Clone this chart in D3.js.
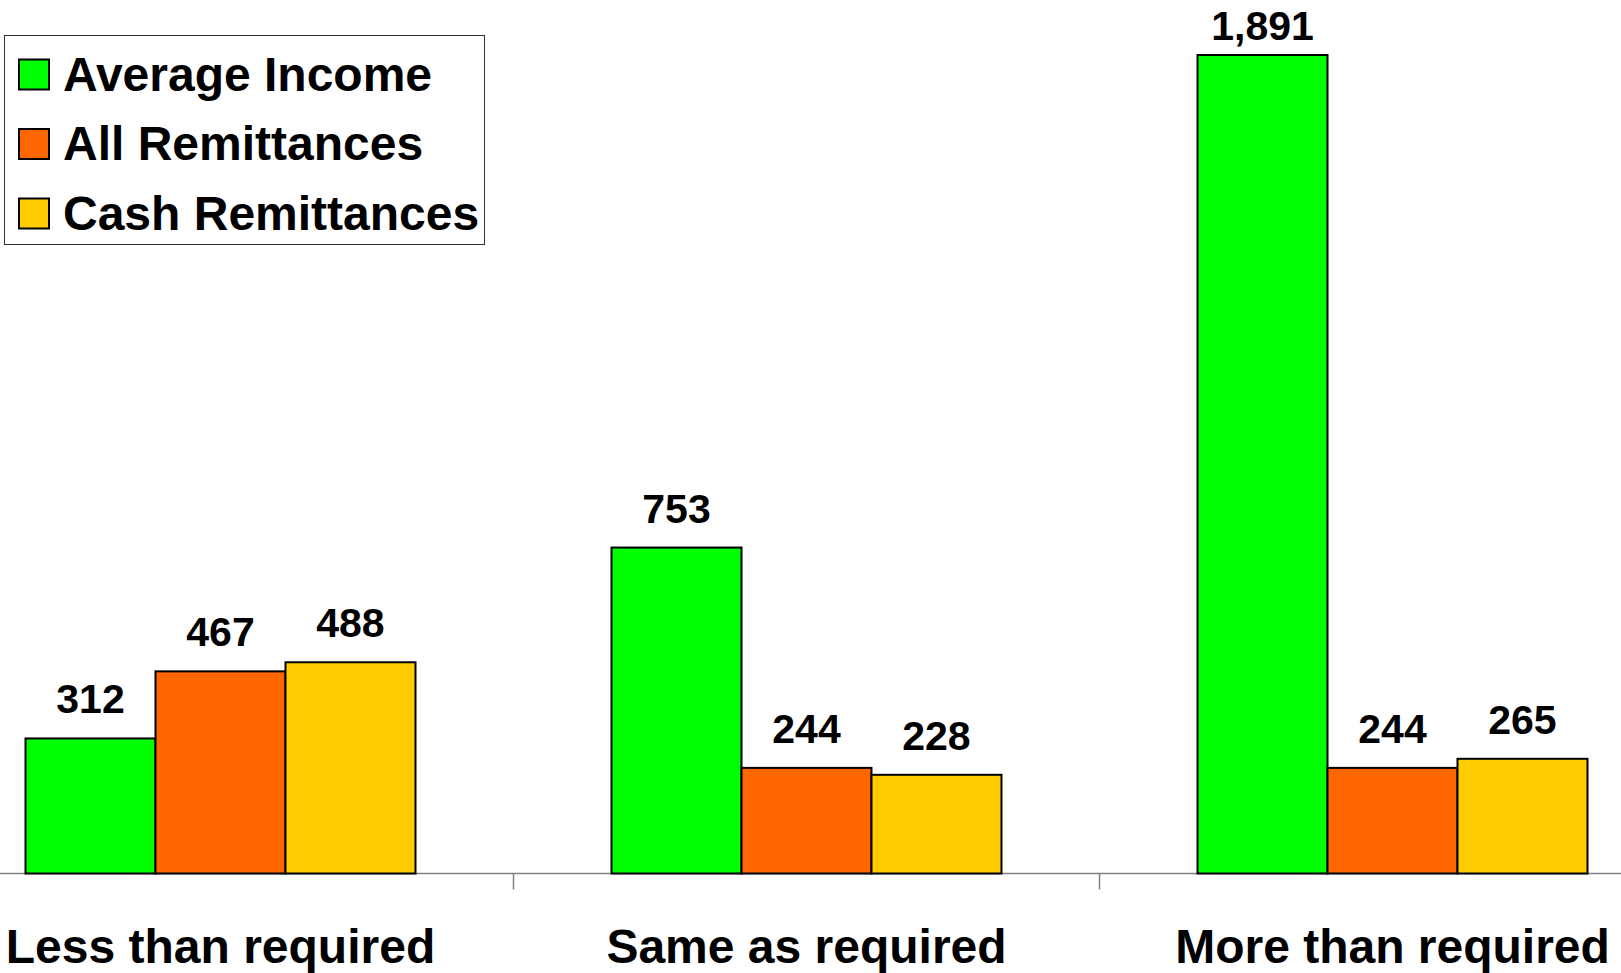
<!DOCTYPE html>
<html>
<head>
<meta charset="utf-8">
<script src="https://cdn.jsdelivr.net/npm/d3@7"></script>
<style>
  body { margin: 0; background: #fff; }
  text { font-family: "Liberation Sans", Arial, sans-serif; font-weight: bold; fill: #000; }
</style>
</head>
<body>
<div id="chart"></div>
<script>
// chart data
var categories = ['Less than required', 'Same as required', 'More than required'];
var series = ['Average Income', 'All Remittances', 'Cash Remittances'];
var averageIncome = [312, 753, 1891];
var allRemittances = [467, 244, 244];
var cashRemittances = [488, 228, 265];
var colors = ['#00ff00', '#ff6600', '#ffcc00'];

var width = 1621,
    height = 973;

var rows = categories.map(function (c, i) {
    return { cat: c, values: [averageIncome[i], allRemittances[i], cashRemittances[i]] };
});

var svg = d3.select('#chart')
    .append('svg')
    .attr('width', width)
    .attr('height', height);

// band for categories runs off both edges like the original
var x0 = d3.scaleBand().domain(categories).range([-72.5, 1685.5]).padding(0);
var x1 = d3.scaleBand().domain(series).range([0, x0.bandwidth()]).paddingInner(0).paddingOuter(0.754);
var y = d3.scaleLinear().domain([0, 2000]).range([873.5, 7.8]);

// axis line + ticks between groups
svg.append('line')
    .attr('x1', 0).attr('x2', width)
    .attr('y1', y(0)).attr('y2', y(0))
    .attr('stroke', '#808080').attr('stroke-width', 1.5);

svg.selectAll('.tick')
    .data(categories.slice(1))
    .enter()
    .append('line')
    .attr('x1', function (d) { return x0(d); })
    .attr('x2', function (d) { return x0(d); })
    .attr('y1', y(0))
    .attr('y2', y(0) + 16)
    .attr('stroke', '#808080').attr('stroke-width', 1.5);

var groups = svg.selectAll('.grp')
    .data(rows)
    .enter()
    .append('g')
    .attr('transform', function (d) { return 'translate(' + x0(d.cat) + ',0)'; });

groups.selectAll('rect')
    .data(function (d) { return d.values.map(function (v, j) { return { s: series[j], v: v, j: j }; }); })
    .enter()
    .append('rect')
    .attr('x', function (d) { return x1(d.s); })
    .attr('width', x1.bandwidth())
    .attr('y', function (d) { return y(d.v); })
    .attr('height', function (d) { return y(0) - y(d.v); })
    .attr('fill', function (d) { return colors[d.j]; })
    .attr('stroke', '#000')
    .attr('stroke-width', 2);

// value labels, the tall one gets pushed down so it stays on the page
groups.selectAll('.val')
    .data(function (d) { return d.values.map(function (v, j) { return { s: series[j], v: v }; }); })
    .enter()
    .append('text')
    .attr('x', function (d) { return x1(d.s) + x1.bandwidth() / 2; })
    .attr('y', function (d) { return Math.max(y(d.v) - 25, 40); })
    .attr('text-anchor', 'middle')
    .style('font-size', '41px')
    .text(function (d) { return d3.format(',')(d.v); });

// category labels
svg.selectAll('.cat')
    .data(categories)
    .enter()
    .append('text')
    .attr('x', function (d) { return x0(d) + x0.bandwidth() / 2; })
    .attr('y', 963)
    .attr('text-anchor', 'middle')
    .style('font-size', '48px')
    .text(function (d) { return d; });

// legend
var legend = svg.append('g');
legend.append('rect')
    .attr('x', 4.5).attr('y', 35.5)
    .attr('width', 480).attr('height', 209)
    .attr('fill', '#fff')
    .attr('stroke', '#333').attr('stroke-width', 1);

series.forEach(function (s, i) {
    var cy = 74.5 + i * 69.5;
    legend.append('rect')
        .attr('x', 19).attr('y', cy - 15)
        .attr('width', 30).attr('height', 30)
        .attr('fill', colors[i])
        .attr('stroke', '#000').attr('stroke-width', 2);
    legend.append('text')
        .attr('x', 63).attr('y', cy + 16)
        .style('font-size', '48px')
        .text(s);
});
</script>
</body>
</html>
